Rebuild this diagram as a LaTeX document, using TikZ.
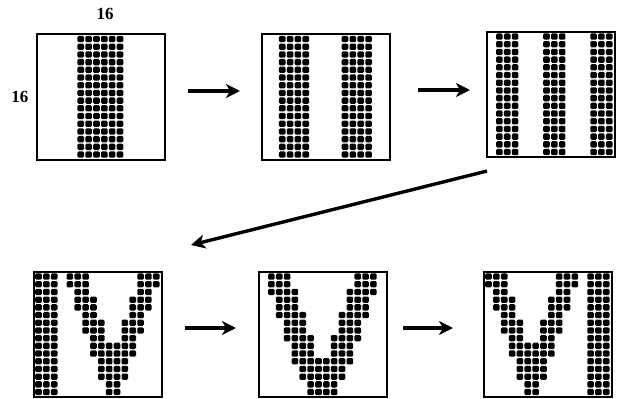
\documentclass[tikz,border=0pt]{standalone}
\usepackage{fontspec}
\setmainfont{Liberation Serif}
\usepackage{tikz}
\usetikzlibrary{positioning,arrows.meta}
\tikzstyle{gridbox} = [rectangle, draw=black, line width=2pt, outer sep=0pt, inner sep=0pt, minimum width=128pt, minimum height=125pt]
\tikzstyle{pixel} = [fill=black, rounded corners=1.3pt]
\tikzstyle{arrow} = [line width=3.4pt, -{Stealth[length=14pt,width=14pt,inset=4pt]}]
\tikzstyle{dimlabel} = [font=\fontsize{17}{17}\selectfont\bfseries]
% one run of filled cells: node, row, first col, last col, col shift
\newcommand{\cellrun}[5]{%
  \foreach \col in {#3,...,#4}
    \fill[pixel] ([xshift={(\col+#5)*7.85pt+1.2pt}, yshift={-#2*7.7pt-1.4pt}]#1.north west) rectangle +(6.6pt,-6.3pt);%
}
\newcommand{\wideV}{0/1/3, 0/12/14, 1/1/3, 1/12/14, 2/1/4, 2/11/14, 3/2/4, 3/11/13,
  4/2/4, 4/11/13, 5/2/5, 5/10/13, 6/3/5, 6/10/12, 7/3/5, 7/10/12, 8/3/6, 8/9/12,
  9/4/6, 9/9/11, 10/4/6, 10/9/11, 11/4/11, 12/5/10, 13/5/10, 14/6/9, 15/6/9}
\newcommand{\narrowV}{0/0/2, 0/9/11, 1/0/2, 1/9/11, 2/1/2, 2/9/10, 3/1/3, 3/8/10,
  4/1/3, 4/8/10, 5/2/3, 5/8/9, 6/2/4, 6/7/9, 7/2/4, 7/7/9, 8/3/4, 8/7/8,
  9/3/8, 10/3/8, 11/4/7, 12/4/7, 13/4/7, 14/5/6, 15/5/6}

\begin{document}
\begin{tikzpicture}[x=1pt,y=-1pt]
\useasboundingbox (0,0) rectangle (617,398);
% top row
\node (g1) [gridbox] at (101,97) {};
\node (g2) [gridbox] at (326,97) {};
\node (g3) [gridbox] at (551,94.5) {};
% bottom row
\node (g4) [gridbox] at (98,334.5) {};
\node (g5) [gridbox] at (323,334.5) {};
\node (g6) [gridbox] at (548,334.5) {};
\node (numtop) [dimlabel, above=11pt of g1, xshift=4pt] {16};
\node (numleft) [dimlabel, left=5pt of g1] {16};
% stripes
\foreach \rw in {0,...,15} {
  \cellrun{g1}{\rw}{5}{10}{0}
  \cellrun{g2}{\rw}{2}{5}{0}
  \cellrun{g2}{\rw}{10}{13}{0}
  \cellrun{g3}{\rw}{1}{3}{0}
  \cellrun{g3}{\rw}{7}{9}{0}
  \cellrun{g3}{\rw}{13}{15}{0}
  \cellrun{g4}{\rw}{0}{2}{0}
  \cellrun{g6}{\rw}{13}{15}{0}
}
% letters
\foreach \rw/\lo/\hi in \narrowV {
  \cellrun{g4}{\rw}{\lo}{\hi}{4}
  \cellrun{g6}{\rw}{\lo}{\hi}{0}
}
\foreach \rw/\lo/\hi in \wideV
  \cellrun{g5}{\rw}{\lo}{\hi}{0};
% arrows
\draw[arrow, shorten <=23pt, shorten >=22pt] ([yshift=6pt]g1.east) -- ([yshift=6pt]g2.west);
\draw[arrow, shorten <=28pt, shorten >=17pt] ([yshift=7pt]g2.east) -- ([yshift=4.5pt]g3.west);
\draw[arrow] ([yshift=-14pt]g3.south west) -- ([xshift=29pt,yshift=27pt]g4.north east);
\draw[arrow, shorten <=23pt, shorten >=23pt] ([yshift=6.5pt]g4.east) -- ([yshift=6.5pt]g5.west);
\draw[arrow, shorten <=16pt, shorten >=31pt] ([yshift=6.5pt]g5.east) -- ([yshift=6.5pt]g6.west);
\end{tikzpicture}
\end{document}
